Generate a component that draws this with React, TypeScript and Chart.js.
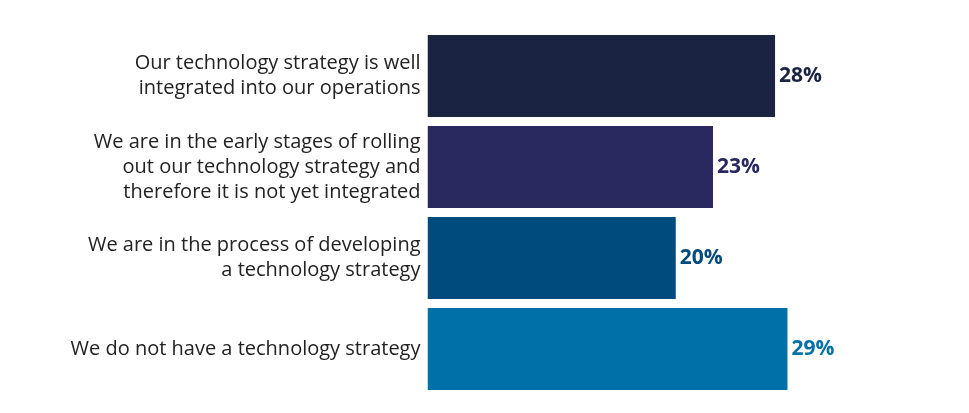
import React, { useEffect, useRef } from "react";
import { Chart, registerables } from "chart.js";

Chart.register(...registerables);

const categories: string[][] = [
  ["Our technology strategy is well", "integrated into our operations"],
  ["We are in the early stages of rolling", "out our technology strategy and", "therefore it is not yet integrated"],
  ["We are in the process of developing", "a technology strategy"],
  ["We do not have a technology strategy"],
];
const values: number[] = [28, 23, 20, 29];
const barColors: string[] = ["#1a2341", "#29295f", "#004b7d", "#0070a9"];
const labelColors: string[] = ["#1a2341", "#29295f", "#004b7d", "#0070a9"];

const valueLabelPlugin = {
  id: "valueLabels",
  afterDatasetsDraw(chart: any) {
    const { ctx } = chart;
    const meta = chart.getDatasetMeta(0);
    ctx.save();
    ctx.font = "bold 21px 'Open Sans'";
    ctx.textAlign = "left";
    ctx.textBaseline = "middle";
    meta.data.forEach((bar: any, i: number) => {
      ctx.fillStyle = labelColors[i];
      ctx.fillText(values[i] + "%", bar.x + 4, bar.y);
    });
    ctx.restore();
  },
};

export default function App() {
  const ref = useRef<HTMLCanvasElement>(null);
  useEffect(() => {
    if (!ref.current) return;
    const chart = new Chart(ref.current, {
      type: "bar",
      data: {
        labels: categories,
        datasets: [
          {
            data: values,
            backgroundColor: barColors,
            borderWidth: 0,
            barPercentage: 0.9,
            categoryPercentage: 1.0,
          },
        ],
      },
      options: {
        indexAxis: "y",
        animation: false,
        responsive: true,
        maintainAspectRatio: false,
        layout: { padding: { top: 22.5, bottom: 10.5, left: 0, right: 37 } },
        plugins: { legend: { display: false }, tooltip: { enabled: false } },
        scales: {
          x: { display: false, min: 0, max: 40 },
          y: {
            grid: { display: false, drawTicks: false, tickLength: 0 },
            border: { display: false },
            afterFit: (s: any) => {
              s.width = 419.5;
              s.paddingTop = 0;
              s.paddingBottom = 0;
            },
            ticks: {
              padding: 7,
              color: "#222222",
              font: { family: "'Open Sans'", size: 20, lineHeight: 1.25 },
            },
          },
        },
      },
      plugins: [valueLabelPlugin],
    });
    return () => chart.destroy();
  }, []);
  return (
    <div style={{ position: "relative", width: "100%", height: "397px" }}>
      <canvas ref={ref} />
    </div>
  );
}
